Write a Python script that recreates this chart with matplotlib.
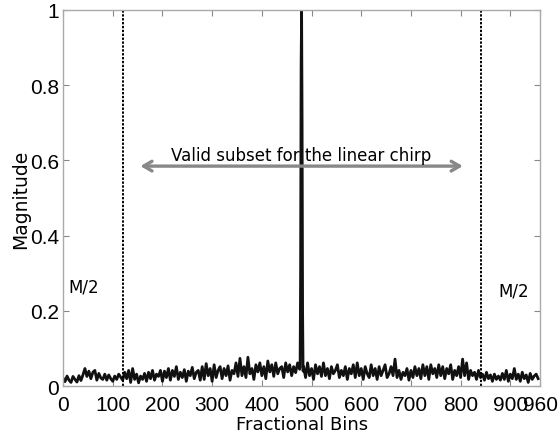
import numpy as np
import matplotlib
matplotlib.use("Agg")
import matplotlib.pyplot as plt

# Noise floor, sampled every 4 fractional bins (0..956)
noise_step = 4
noise_vals = [
    0.022,0.012,0.027,0.016,0.010,0.026,0.018,0.011,0.028,0.015,
    0.030,0.047,0.026,0.040,0.020,0.037,0.042,0.016,0.034,0.022,
    0.018,0.032,0.016,0.030,0.020,0.013,0.027,0.018,0.032,0.024,
    0.016,0.037,0.020,0.042,0.010,0.047,0.018,0.032,0.009,0.027,
    0.018,0.034,0.013,0.037,0.020,0.042,0.016,0.032,0.026,0.042,
    0.013,0.040,0.023,0.047,0.016,0.042,0.026,0.052,0.018,0.037,
    0.023,0.044,0.013,0.040,0.028,0.050,0.020,0.037,0.042,0.016,
    0.052,0.018,0.060,0.028,0.047,0.013,0.057,0.023,0.042,0.052,
    0.020,0.047,0.028,0.054,0.016,0.042,0.033,0.062,0.026,0.074,
    0.028,0.052,0.023,0.077,0.033,0.047,0.018,0.057,0.038,0.062,
    0.028,0.052,0.020,0.067,0.038,0.057,0.026,0.062,0.033,0.047,
    0.052,0.023,0.062,0.038,0.057,0.028,0.052,0.036,0.062,0.045,
    0.028,0.052,0.023,0.062,0.028,0.047,0.018,0.057,0.033,0.052,
    0.026,0.062,0.028,0.047,0.020,0.052,0.033,0.042,0.057,0.023,
    0.042,0.028,0.052,0.018,0.047,0.033,0.057,0.023,0.062,0.028,
    0.047,0.018,0.052,0.033,0.023,0.057,0.028,0.047,0.018,0.052,
    0.028,0.042,0.057,0.023,0.033,0.052,0.028,0.072,0.023,0.042,
    0.018,0.037,0.028,0.047,0.016,0.042,0.023,0.052,0.028,0.047,
    0.020,0.057,0.028,0.052,0.018,0.057,0.033,0.047,0.023,0.057,
    0.028,0.052,0.020,0.047,0.033,0.057,0.018,0.042,0.028,0.052,
    0.023,0.072,0.028,0.062,0.018,0.042,0.028,0.037,0.018,0.042,
    0.023,0.032,0.016,0.037,0.020,0.030,0.013,0.032,0.018,0.027,
    0.016,0.034,0.018,0.042,0.013,0.032,0.020,0.047,0.018,0.032,
    0.013,0.037,0.020,0.030,0.010,0.034,0.018,0.027,0.032,0.020,
]
# Main peak around bin 480
spike_bins = [477, 478, 479, 480, 481, 482, 483]
spike_vals = [0.05, 0.30, 0.85, 1.00, 0.70, 0.20, 0.04]

boundary_bins = [120, 840]
arrow_span = [150, 810]
arrow_y = 0.585
x_ticks = [0, 100, 200, 300, 400, 500, 600, 700, 800, 900, 960]
y_ticks = [0, 0.2, 0.4, 0.6, 0.8, 1]
y_tick_labels = ["0", "0.2", "0.4", "0.6", "0.8", "1"]

noise_bins = [i * noise_step for i in range(len(noise_vals))]
pts = {b: v for b, v in zip(noise_bins, noise_vals)}
for b, v in zip(spike_bins, spike_vals):
    pts[b] = v
xs = sorted(pts)
ys = [pts[b] for b in xs]

fig = plt.figure(figsize=(5.58, 4.39), dpi=100)
ax = fig.add_axes([0.113, 0.118, 0.855, 0.857])
ax.plot(xs, ys, color="#111111", lw=2.0, clip_on=True)
for b in boundary_bins:
    ax.axvline(b, color="black", ls=(0, (1.2, 0.8)), lw=1.4)

ax.annotate("", xy=(arrow_span[0], arrow_y), xytext=(arrow_span[1], arrow_y),
            arrowprops=dict(arrowstyle="<->,head_length=0.6,head_width=0.35",
                            color="#888888", lw=2.4))
ax.text(480, 0.615, "Valid subset for the linear chirp", ha="center", va="center",
        fontsize=12, family="DejaVu Sans")
ax.text(42, 0.266, "M/2", ha="center", va="center", fontsize=12, family="DejaVu Sans")
ax.text(906, 0.255, "M/2", ha="center", va="center", fontsize=12, family="DejaVu Sans")

ax.set_xlim(0, 960)
ax.set_ylim(0, 1)
ax.set_xticks(x_ticks)
ax.set_yticks(y_ticks)
ax.set_yticklabels(y_tick_labels)
for lab in ax.get_xticklabels() + ax.get_yticklabels():
    lab.set_family("Liberation Sans")
    lab.set_fontsize(15)
ax.tick_params(direction="in", top=True, right=True, length=4, color="#888888")
ax.tick_params(axis="x", pad=6)
ax.tick_params(axis="y", pad=3)
for s in ax.spines.values():
    s.set_color("#aaaaaa")
    s.set_linewidth(1.0)
ax.set_xlabel("Fractional Bins", fontsize=13, family="DejaVu Sans", labelpad=1)
ax.set_ylabel("Magnitude", fontsize=13.5, family="DejaVu Sans", labelpad=0)

fig.savefig("out.png", dpi=100)
